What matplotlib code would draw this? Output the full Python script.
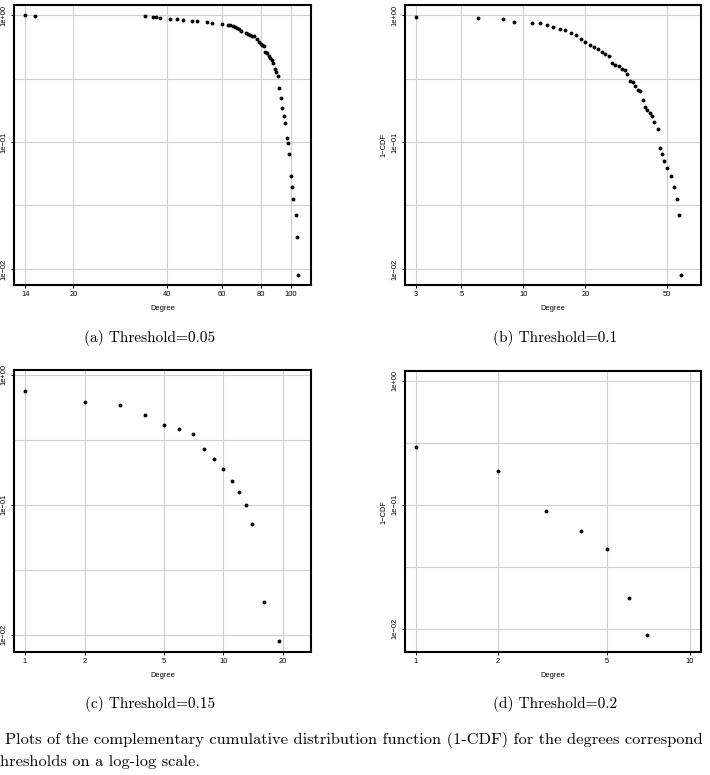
import numpy as np
import matplotlib
matplotlib.use('Agg')
import matplotlib.pyplot as plt
from matplotlib.ticker import FixedLocator, FixedFormatter, NullFormatter

# Threshold = 0.05
deg_a = [14, 15, 34, 36, 37, 38, 41, 43, 45, 48, 50, 54, 56, 60, 63, 64, 65, 66, 67, 68,
         69, 72, 73, 74, 75, 76, 78, 79, 80, 81, 82, 83, 84, 85, 86, 87, 88, 89, 90, 91,
         92, 93, 94, 95, 96, 97, 98, 99, 100, 101, 102, 104, 105, 106]
ccdf_a = [1.0, 0.988, 0.982, 0.970, 0.958, 0.953, 0.936, 0.924, 0.919, 0.902, 0.891, 0.881,
          0.860, 0.844, 0.839, 0.829, 0.814, 0.800, 0.790, 0.776, 0.753, 0.726, 0.713, 0.700,
          0.688, 0.679, 0.651, 0.617, 0.591, 0.577, 0.570, 0.514, 0.499, 0.476, 0.459, 0.442,
          0.421, 0.373, 0.354, 0.329, 0.268, 0.223, 0.186, 0.160, 0.142, 0.107, 0.098, 0.080,
          0.0535, 0.0445, 0.0355, 0.0266, 0.0177, 0.0089]

# Threshold = 0.1
deg_b = [3, 6, 8, 9, 11, 12, 13, 14, 15, 16, 17, 18, 19, 20, 21, 22, 23, 24, 25, 26, 27,
         28, 29, 30, 31, 32, 33, 34, 35, 36, 37, 38, 39, 40, 41, 42, 43, 45, 46, 47, 48,
         50, 52, 54, 56, 57, 58]
ccdf_b = [0.970, 0.941, 0.930, 0.886, 0.870, 0.860, 0.839, 0.809, 0.771, 0.762, 0.726, 0.700,
          0.651, 0.609, 0.577, 0.557, 0.537, 0.511, 0.496, 0.476, 0.416, 0.406, 0.394, 0.378,
          0.367, 0.341, 0.304, 0.295, 0.277, 0.258, 0.250, 0.215, 0.189, 0.180, 0.170, 0.161,
          0.143, 0.126, 0.0897, 0.0806, 0.0712, 0.0624, 0.0536, 0.0445, 0.0357, 0.0267, 0.0089]

# Threshold = 0.15
deg_c = [1, 2, 3, 4, 5, 6, 7, 8, 9, 10, 11, 12, 13, 14, 16, 19]
ccdf_c = [0.753, 0.616, 0.580, 0.492, 0.412, 0.384, 0.349, 0.268, 0.223, 0.188, 0.152,
          0.125, 0.0986, 0.0712, 0.0177, 0.00889]

# Threshold = 0.2
deg_d = [1, 2, 3, 4, 5, 6, 7]
ccdf_d = [0.292, 0.186, 0.0884, 0.0617, 0.0442, 0.0177, 0.00884]

xticks_a = [14, 20, 40, 60, 80, 100]
xticks_b = [3, 5, 10, 20, 50]
xticks_c = [1, 2, 5, 10, 20]
xticks_d = [1, 2, 5, 10]
yticks = [1, 0.1, 0.01]
ytick_labels = ['1e+00', '1e\u221201', '1e\u221202']
captions = ['(a) Threshold=0.05', '(b) Threshold=0.1', '(c) Threshold=0.15', '(d) Threshold=0.2']

W, H = 710, 775
fig = plt.figure(figsize=(W / 100, H / 100), dpi=100)
plt.rcParams['font.family'] = 'Liberation Sans'


def make_axes(l, r, t, b):
    return fig.add_axes([l / W, (H - b) / H, (r - l) / W, (b - t) / H])


def draw_panel(ax, x, y, xticks, xlim, ylim, ylabel=None):
    ax.set_xscale('log')
    ax.set_yscale('log')
    ax.plot(x, y, 'o', color='black', markersize=2.8, markeredgewidth=0, zorder=3)
    ax.set_xlim(*xlim)
    ax.set_ylim(*ylim)
    ax.xaxis.set_major_locator(FixedLocator(xticks))
    ax.xaxis.set_major_formatter(FixedFormatter([str(v) for v in xticks]))
    ax.xaxis.set_minor_locator(FixedLocator([]))
    ax.xaxis.set_minor_formatter(NullFormatter())
    ax.yaxis.set_major_locator(FixedLocator(yticks))
    ax.yaxis.set_major_formatter(FixedFormatter(ytick_labels))
    ax.yaxis.set_minor_locator(FixedLocator([10 ** -0.5, 10 ** -1.5]))
    ax.yaxis.set_minor_formatter(NullFormatter())
    ax.grid(True, which='both', color='#d0d0d0', linewidth=0.8)
    ax.set_axisbelow(True)
    ax.tick_params(axis='both', which='major', length=2.5, width=0.7, labelsize=5.4, pad=2)
    ax.tick_params(axis='y', which='minor', length=0)
    ax.tick_params(axis='y', labelrotation=90)
    for lab in ax.get_yticklabels():
        lab.set_va('center')
    for s in ax.spines.values():
        s.set_linewidth(1.5)
    ax.set_xlabel('Degree', fontsize=5.4, labelpad=5)
    if ylabel:
        ax.set_ylabel(ylabel, fontsize=5.4, labelpad=3)


ax_a = make_axes(14, 311, 5, 285)
draw_panel(ax_a, deg_a, ccdf_a, xticks_a, (12.87, 116.3), (0.00748, 1.199))

ax_b = make_axes(405, 701, 5, 285)
draw_panel(ax_b, deg_b, ccdf_b, xticks_b, (2.66, 72.9), (0.00748, 1.199), ylabel='1\u2212CDF')

ax_c = make_axes(14, 311, 370, 652)
draw_panel(ax_c, deg_c, ccdf_c, xticks_c, (0.88, 27.6), (0.00735, 1.086))

ax_d = make_axes(405, 701, 371, 652)
draw_panel(ax_d, deg_d, ccdf_d, xticks_d, (0.914, 11.0), (0.00648, 1.204), ylabel='1\u2212CDF')

cap_font = 'cmr10'
fig.text(150 / W, 1 - 338 / H, captions[0], fontsize=11, family=cap_font, ha='center', va='center')
fig.text(555 / W, 1 - 338 / H, captions[1], fontsize=11, family=cap_font, ha='center', va='center')
fig.text(150 / W, 1 - 704 / H, captions[2], fontsize=11, family=cap_font, ha='center', va='center')
fig.text(555 / W, 1 - 704 / H, captions[3], fontsize=11, family=cap_font, ha='center', va='center')
fig.text(5 / W, 1 - 740 / H,
         'Plots of the complementary cumulative distribution function (1-CDF) for the degrees correspond',
         fontsize=11.8, family=cap_font, ha='left', va='center')
fig.text(0 / W, 1 - 762 / H, 'hresholds on a log-log scale.',
         fontsize=11.8, family=cap_font, ha='left', va='center')

fig.savefig('out.png', dpi=100)
